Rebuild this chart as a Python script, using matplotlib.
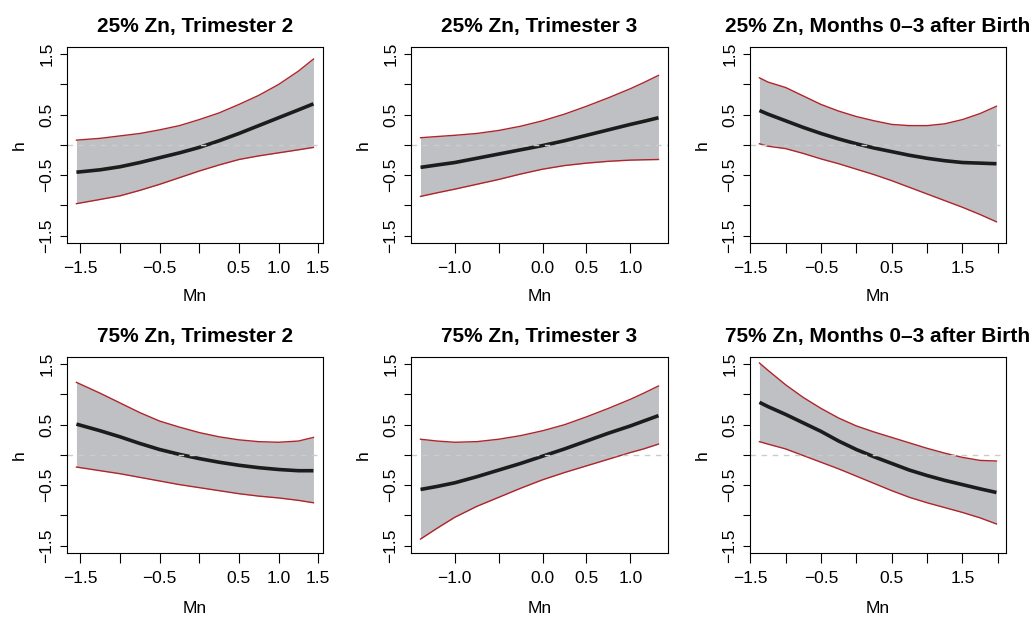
import matplotlib
matplotlib.use("Agg")
import matplotlib.pyplot as plt

plt.rcParams['font.family'] = ['Liberation Sans', 'DejaVu Sans']

titles = ["25% Zn, Trimester 2", "25% Zn, Trimester 3", "25% Zn, Months 0\u20133 after Birth",
          "75% Zn, Trimester 2", "75% Zn, Trimester 3", "75% Zn, Months 0\u20133 after Birth"]

# Mn grid for each exposure window
mn_t2 = [-1.55, -1.25, -1.0, -0.75, -0.5, -0.25, 0.0, 0.25, 0.5, 0.75, 1.0, 1.25, 1.44]
mn_t3 = [-1.39, -1.2, -1.0, -0.75, -0.5, -0.25, 0.0, 0.25, 0.5, 0.75, 1.0, 1.15, 1.32]
mn_m03 = [-1.37, -1.25, -1.0, -0.75, -0.5, -0.25, 0.0, 0.25, 0.5, 0.75, 1.0, 1.25, 1.5, 1.75, 1.98]

# 25% Zn
h_25_t2 = [-0.45, -0.41, -0.36, -0.29, -0.21, -0.13, -0.04, 0.07, 0.19, 0.32, 0.45, 0.58, 0.68]
up_25_t2 = [0.08, 0.11, 0.15, 0.19, 0.25, 0.32, 0.42, 0.53, 0.67, 0.82, 1.00, 1.22, 1.42]
lo_25_t2 = [-0.97, -0.90, -0.84, -0.75, -0.65, -0.54, -0.43, -0.33, -0.24, -0.18, -0.13, -0.08, -0.04]

h_25_t3 = [-0.37, -0.33, -0.29, -0.22, -0.15, -0.08, -0.01, 0.07, 0.16, 0.25, 0.34, 0.39, 0.45]
up_25_t3 = [0.12, 0.14, 0.16, 0.19, 0.24, 0.31, 0.40, 0.51, 0.64, 0.78, 0.93, 1.03, 1.15]
lo_25_t3 = [-0.85, -0.79, -0.73, -0.65, -0.57, -0.48, -0.40, -0.34, -0.30, -0.27, -0.25, -0.245, -0.24]

h_25_m03 = [0.57, 0.51, 0.40, 0.29, 0.19, 0.10, 0.02, -0.05, -0.11, -0.17, -0.22, -0.26, -0.29, -0.30, -0.31]
up_25_m03 = [1.11, 1.04, 0.95, 0.81, 0.67, 0.56, 0.47, 0.40, 0.34, 0.32, 0.32, 0.35, 0.42, 0.52, 0.64]
lo_25_m03 = [0.02, -0.02, -0.06, -0.14, -0.23, -0.31, -0.40, -0.49, -0.59, -0.70, -0.81, -0.92, -1.03, -1.15, -1.27]

# 75% Zn
h_75_t2 = [0.51, 0.40, 0.30, 0.19, 0.09, 0.01, -0.06, -0.12, -0.17, -0.21, -0.24, -0.26, -0.26]
up_75_t2 = [1.20, 1.02, 0.86, 0.70, 0.56, 0.46, 0.37, 0.30, 0.25, 0.22, 0.21, 0.23, 0.29]
lo_75_t2 = [-0.20, -0.26, -0.31, -0.37, -0.43, -0.49, -0.54, -0.59, -0.64, -0.68, -0.71, -0.75, -0.79]

h_75_t3 = [-0.57, -0.52, -0.46, -0.36, -0.25, -0.14, -0.02, 0.10, 0.23, 0.36, 0.48, 0.56, 0.65]
up_75_t3 = [0.26, 0.23, 0.21, 0.22, 0.26, 0.32, 0.40, 0.50, 0.63, 0.77, 0.92, 1.02, 1.14]
lo_75_t3 = [-1.39, -1.21, -1.03, -0.85, -0.70, -0.55, -0.41, -0.29, -0.18, -0.07, 0.04, 0.10, 0.18]

h_75_m03 = [0.87, 0.80, 0.67, 0.53, 0.39, 0.23, 0.09, -0.03, -0.14, -0.25, -0.34, -0.42, -0.49, -0.56, -0.62]
up_75_m03 = [1.52, 1.40, 1.16, 0.95, 0.77, 0.61, 0.48, 0.38, 0.29, 0.20, 0.11, 0.03, -0.04, -0.09, -0.10]
lo_75_m03 = [0.22, 0.18, 0.10, -0.01, -0.12, -0.23, -0.35, -0.47, -0.59, -0.70, -0.79, -0.87, -0.95, -1.04, -1.14]

# axis ticks (R drops labels that would overlap)
xt_t2 = [-1.5, -1.0, -0.5, 0.0, 0.5, 1.0, 1.5]
xl_t2 = ["\u22121.5", "", "\u22120.5", "", "0.5", "1.0", "1.5"]
xt_t3 = [-1.0, -0.5, 0.0, 0.5, 1.0]
xl_t3 = ["\u22121.0", "", "0.0", "0.5", "1.0"]
xt_m03 = [-1.5, -1.0, -0.5, 0.0, 0.5, 1.0, 1.5, 2.0]
xl_m03 = ["\u22121.5", "", "\u22120.5", "", "0.5", "", "1.5", ""]
yt = [-1.5, -1.0, -0.5, 0.0, 0.5, 1.0, 1.5]
yl = ["\u22121.5", "", "\u22120.5", "", "0.5", "", "1.5"]

panels = [
    (mn_t2, h_25_t2, up_25_t2, lo_25_t2, xt_t2, xl_t2),
    (mn_t3, h_25_t3, up_25_t3, lo_25_t3, xt_t3, xl_t3),
    (mn_m03, h_25_m03, up_25_m03, lo_25_m03, xt_m03, xl_m03),
    (mn_t2, h_75_t2, up_75_t2, lo_75_t2, xt_t2, xl_t2),
    (mn_t3, h_75_t3, up_75_t3, lo_75_t3, xt_t3, xl_t3),
    (mn_m03, h_75_m03, up_75_m03, lo_75_m03, xt_m03, xl_m03),
]

fig = plt.figure(figsize=(10.35, 6.18), dpi=100)
lefts = [0.0647, 0.3971, 0.7246]
widths = [0.2473, 0.2483, 0.2473]
bottoms = [0.6068, 0.1052]
height = 0.3172
xlab_pad = [9.5, 11.0]

for i, (x, h, up, lo, xt, xl) in enumerate(panels):
    r, c = divmod(i, 3)
    ax = fig.add_axes([lefts[c], bottoms[r], widths[c], height])
    ax.fill_between(x, lo, up, color='#bfc0c4', lw=0)
    ax.plot(x, up, color='#b0242a', lw=1.0)
    ax.plot(x, lo, color='#b0242a', lw=1.0)
    ax.plot(x, h, color='#1c1c1c', lw=2.6, solid_capstyle='butt')
    ax.axhline(0, color='#cccccc', lw=1.0, ls=(0, (4, 4)))
    ax.margins(x=0.04)
    ax.set_ylim(-1.62, 1.62)
    ax.set_xticks(xt)
    ax.set_xticklabels(xl)
    ax.set_yticks(yt)
    ax.set_yticklabels(yl, rotation=90, va='center')
    ax.tick_params(axis='x', length=7, width=0.8, pad=6, labelsize=12.5)
    ax.tick_params(axis='y', length=5, width=0.8, pad=4, labelsize=12.5)
    for s in ax.spines.values():
        s.set_linewidth(0.8)
    ax.set_xlabel("Mn", fontsize=12.5, labelpad=xlab_pad[r])
    ax.set_ylabel("h", fontsize=12.5, labelpad=9)
    ax.set_title(titles[i], fontsize=15, fontweight='bold', pad=11)

fig.savefig("out.png", dpi=100)
